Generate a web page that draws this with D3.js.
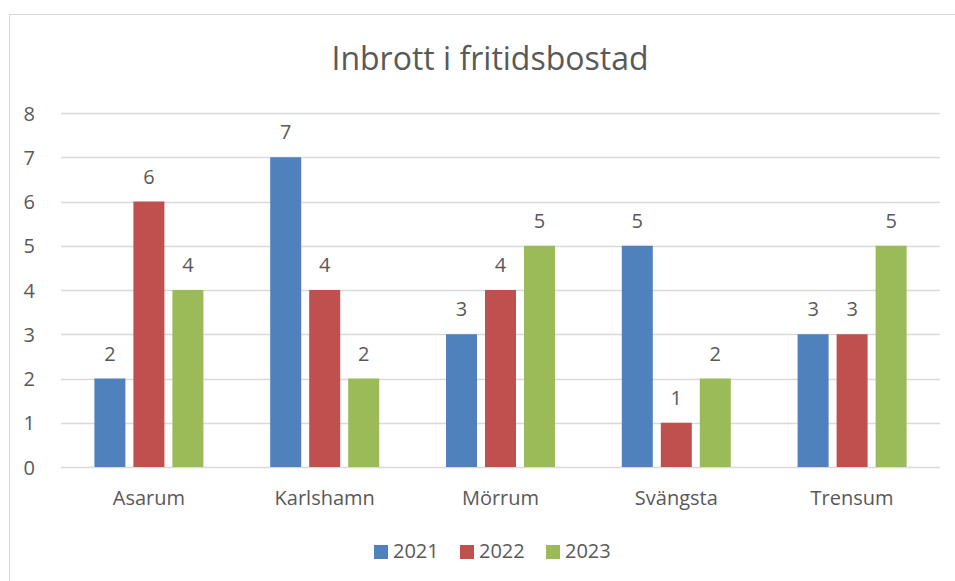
<!DOCTYPE html>
<html>
<head>
<meta charset="utf-8">
<script src="https://cdn.jsdelivr.net/npm/d3@7"></script>
<style>
  body { margin: 0; background: #fff; }
  text { font-family: "Open Sans", sans-serif; fill: #595959; }
</style>
</head>
<body>
<div id="my_dataviz"></div>
<script>
// data
var categories = ["Asarum", "Karlshamn", "Mörrum", "Svängsta", "Trensum"];
var years = ["2021", "2022", "2023"];
var v2021 = [2, 7, 3, 5, 3];
var v2022 = [6, 4, 4, 1, 3];
var v2023 = [4, 2, 5, 2, 5];
var yTicks = [0, 1, 2, 3, 4, 5, 6, 7, 8];
var colors = ["#4f81bd", "#c0504d", "#9bbb59"];

var series = [v2021, v2022, v2023];

var W = 955, H = 581;
var margin = {top: 113, right: 15, bottom: 114, left: 61},
width = W - margin.left - margin.right,
height = H - margin.top - margin.bottom;

var root = d3.select("#my_dataviz")
.append("svg")
.attr("width", W)
.attr("height", H);

// chart border
root.append("rect")
.attr("x", 9.5).attr("y", 14.5)
.attr("width", 1000).attr("height", 1000)
.attr("fill", "none")
.attr("stroke", "#d9d9d9");

root.append("text")
.attr("x", 490).attr("y", 70)
.attr("text-anchor", "middle")
.style("font-size", "32px")
.text("Inbrott i fritidsbostad");

var svg = root.append("g")
.attr("transform", "translate(" + margin.left + "," + margin.top + ")");

var x = d3.scaleBand()
.domain(categories)
.range([0, width]);

var y = d3.scaleLinear()
.domain([0, 8])
.range([height, 0]);

// gridlines
svg.append("g")
.selectAll("line")
.data(yTicks)
.enter()
.append("line")
  .attr("x1", 0).attr("x2", width)
  .attr("y1", function(d) { return Math.round(y(d)) + 0.5; })
  .attr("y2", function(d) { return Math.round(y(d)) + 0.5; })
  .attr("stroke", "#d9d9d9")
  .attr("stroke-width", 1.3);

// Y axis
var yAxis = svg.append("g")
.attr("transform", "translate(-23,0)")
.call(d3.axisLeft(y).tickValues(yTicks).tickSize(0).tickFormat(d3.format("d")));
yAxis.select(".domain").remove();
yAxis.selectAll("text").style("font-size", "20px").attr("dx", 0).attr("dy", "0.35em");

// X axis
var xAxis = svg.append("g")
.attr("transform", "translate(0," + height + ")")
.call(d3.axisBottom(x).tickSize(0));
xAxis.select(".domain").remove();
xAxis.selectAll("text").style("font-size", "20px").attr("y", 38).attr("dy", 0);

var barW = 31, gap = 8;
var groupW = 3 * barW + 2 * gap;

var groups = svg.append("g")
.selectAll("g")
.data(categories)
.enter()
.append("g")
  .attr("transform", function(d) { return "translate(" + (x(d) + x.bandwidth() / 2 - groupW / 2) + ",0)"; });

years.forEach(function(yr, s) {
  groups.append("rect")
    .attr("x", s * (barW + gap))
    .attr("y", function(d, i) { return y(series[s][i]); })
    .attr("width", barW)
    .attr("height", function(d, i) { return height - y(series[s][i]); })
    .attr("fill", colors[s]);
  groups.append("text")
    .attr("x", s * (barW + gap) + barW / 2)
    .attr("y", function(d, i) { return y(series[s][i]) - 18; })
    .attr("text-anchor", "middle")
    .style("font-size", "20px")
    .text(function(d, i) { return series[s][i]; });
});

// legend
var legendX = [374, 460, 546];
var legend = root.append("g")
.selectAll("g")
.data(years)
.enter()
.append("g")
  .attr("transform", function(d, i) { return "translate(" + legendX[i] + ",545)"; });
legend.append("rect")
  .attr("width", 14).attr("height", 14)
  .attr("fill", function(d, i) { return colors[i]; });
legend.append("text")
  .attr("x", 19).attr("y", 13)
  .style("font-size", "20px")
  .text(function(d) { return d; });
</script>
</body>
</html>
